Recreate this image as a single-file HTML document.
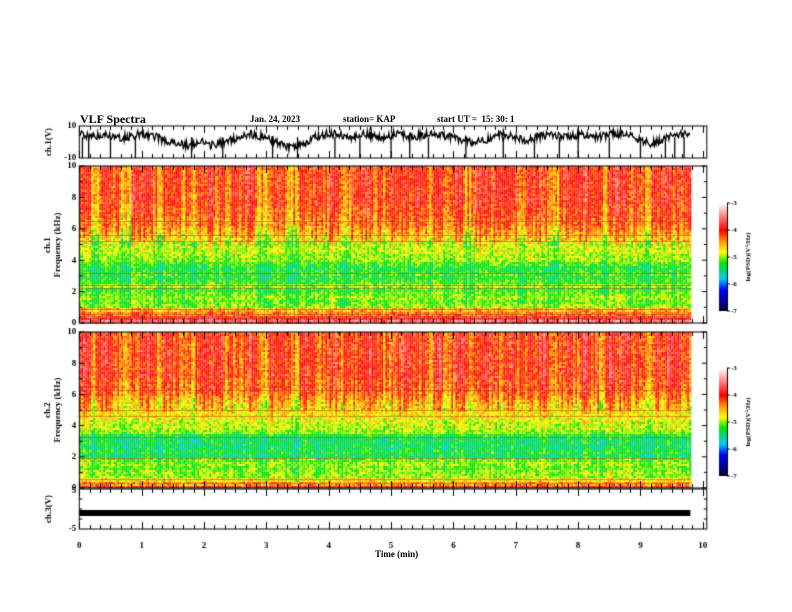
<!DOCTYPE html>
<html><head><meta charset="utf-8">
<style>
body{margin:0;background:#fff;width:792px;height:612px;overflow:hidden;position:relative;font-family:"Liberation Serif",serif;font-weight:bold;}
.t{position:absolute;font-size:9px;color:#000;white-space:nowrap;}
canvas{position:absolute;left:0;top:0;}
</style></head><body>
<canvas id="c" width="792" height="612"></canvas>
<div class="t" style="left:80px;top:112px;font-size:12px">VLF Spectra</div>
<div class="t" style="left:250px;top:114px">Jan. 24, 2023</div>
<div class="t" style="left:343px;top:114px">station= KAP</div>
<div class="t" style="left:437px;top:114px">start UT =&nbsp;&nbsp;15: 30: 1</div>
<div class="t" style="left:375px;top:549px">Time (min)</div>
<script>
// ---------- data ----------
const timeTicks=[0,1,2,3,4,5,6,7,8,9,10];
const ch1Values=[5,4,3,5,4,2,3,4,5,4,3,1,0,-1,-2,-1,0,-2,-1,0,2,4,5,4,3,1,-1,-3,-2,-1,2,4,5,5,4,3,4,5,4,3,4,5,4,3,4,5,5,4,3,2,1,0,1,2,4,5,3,2,1,3,4,5,4,3,4,5,4,3,4,5,5,4,2,0,-1,1,3,4,5,6];
const ch1Spikes=[0.05,0.15,0.5,0.9,1.8,2.3,3.1,3.5,4.1,4.5,5.0,5.3,5.6,6.2,6.8,7.3,7.7,8.0,8.5,9.0,9.4,9.55,9.7];
const freqTicks=[0,2,4,6,8,10];
const ch1Profile=[-3.6,-3.9,-4.3,-4.5,-5.0,-5.1,-5.0,-5.1,-5.2,-5.0,-5.2,-5.3,-5.2,-5.3,-5.3,-5.2,-5.0,-5.0,-4.9,-4.9,-4.9,-4.7,-4.6,-4.5,-4.4,-4.3,-4.3,-4.2,-4.2,-4.2,-4.1,-4.1,-4.1,-4.1,-4.1,-4.1,-4.1,-4.1,-4.1,-4.1];
const ch2Profile=[-4.1,-4.4,-4.7,-5.0,-5.0,-5.1,-5.0,-5.1,-5.4,-5.3,-5.4,-5.4,-5.4,-5.3,-5.0,-4.9,-4.9,-4.8,-4.7,-4.7,-4.6,-4.6,-4.5,-4.4,-4.3,-4.2,-4.2,-4.2,-4.1,-4.1,-4.1,-4.1,-4.1,-4.1,-4.1,-4.1,-4.1,-4.1,-4.1,-4.1];
const ch1Lines=[0.3,0.6,0.9,2.2,2.4,3.2,5.2,5.6,6.5];
const ch2Lines=[0.3,0.6,1.9,3.3,4.6,5.0,6.3];
const activity=[0.1,-0.2,0.2,0.1,-0.3,0.1,0.2,-0.1,0.1,0.0,-0.2,0.1,0.2,0.1,-0.1,0.0,0.2,-0.2,0.1,0.1,-0.3,0.2,0.1,0.0,0.2,-0.1,0.1,0.2,0.0,-0.2,0.1,0.2,0.1,-0.1,0.2,0.0,0.1,-0.2,0.2,0.1,0.0,0.2,-0.1,0.1,0.2,-0.2,0.1,0.0,0.2,0.1,-0.1,0.2,0.1,0.0,-0.2,0.1,0.2,0.1,0.0,0.1];
const ch3Level=[-1];
const cbarTicks=[-3,-4,-5,-6,-7];
// ---------- drawing ----------
const c=document.getElementById('c'),g=c.getContext('2d');
const X0=79.3,X1=702.8,DEND=9.8;
const xs=t=>X0+(X1-X0)*t/10;
function h(i,j){let n=(i*374761393+j*668265263)|0;n=(n^(n>>>13))*1274126177|0;return ((n^(n>>>16))>>>0)/4294967296;}
const stops=[[0,0,0,0],[0.05,0,0,110],[0.2,0,0,255],[0.3,0,200,255],[0.45,0,230,0],[0.55,255,255,0],[0.65,255,150,0],[0.75,255,0,0],[0.9,255,150,150],[1,255,255,255]];
function cmap(v){let t=Math.max(0,Math.min(1,(v+7)/4));for(let k=1;k<stops.length;k++){if(t<=stops[k][0]){const a=stops[k-1],b=stops[k],f=(t-a[0])/(b[0]-a[0]);return `rgb(${a[1]+(b[1]-a[1])*f|0},${a[2]+(b[2]-a[2])*f|0},${a[3]+(b[3]-a[3])*f|0})`;}}return '#fff';}
function spec(top,bot,prof,lines,seed){
  const fy=f=>bot-(bot-top)*f/10;
  const nb=prof.length,cw=2,rh=2;
  for(let x=X0;x<xs(DEND);x+=cw){
    const t=(x-X0)/(X1-X0)*10;const seg=Math.min(activity.length-1,Math.floor(t*6));
    const col=(h(Math.round(x),seed)-0.5)*0.7+activity[seg];
    for(let y=top;y<bot;y+=rh){
      const f=(bot-y)/(bot-top)*10;const b=Math.min(nb-1,Math.floor(f/10*nb));
      const w=f>5?1:0.4;
      const v=prof[b]+col*w+(h(Math.round(x),Math.round(y)+seed)-0.5)*0.55;
      g.fillStyle=cmap(v);g.fillRect(x,y,cw,rh);
    }
  }
  g.globalAlpha=0.45;g.strokeStyle='#a04020';g.lineWidth=1;
  lines.forEach(f=>{const y=Math.round(fy(f))+0.5;g.beginPath();g.moveTo(X0,y);g.lineTo(xs(DEND),y);g.stroke();});
  g.globalAlpha=1;
  frame(top,bot);
  g.font='bold 9px "Liberation Serif"';g.textAlign='right';g.textBaseline='middle';g.fillStyle='#000';
  freqTicks.forEach(f=>{const y=fy(f);g.fillText(f,X0-3,y);
    g.beginPath();g.moveTo(X0,y);g.lineTo(X0+5,y);g.moveTo(X1+4,y);g.lineTo(X1-1,y);g.stroke();});
  for(let f=1;f<10;f+=2){const y=fy(f);g.beginPath();g.moveTo(X0,y);g.lineTo(X0+3,y);g.moveTo(X1+4,y);g.lineTo(X1+1,y);g.stroke();}
}
function frame(top,bot){
  g.strokeStyle='#000';g.lineWidth=1;g.strokeRect(X0,top,X1+4-X0,bot-top);
  for(let k=0;k<=60;k++){const x=Math.round(xs(k/6))+0.5;const L=k%6==0?7:4;
    g.beginPath();g.moveTo(x,top);g.lineTo(x,top+L);g.moveTo(x,bot);g.lineTo(x,bot-L);g.stroke();}
}
function colorbar(top,bot){
  const x=719,w=8;
  for(let y=top;y<bot;y++){g.fillStyle=cmap(-3-4*(y-top)/(bot-top));g.fillRect(x,y,w,1);}
  g.strokeStyle='#000';g.beginPath();g.moveTo(x+w+0.5,top);g.lineTo(x+w+0.5,bot);g.stroke();
  g.fillStyle='#000';g.textAlign='left';g.textBaseline='middle';g.font='bold 7px "Liberation Serif"';
  cbarTicks.forEach(v=>{const y=top+(-3-v)/4*(bot-top);g.beginPath();g.moveTo(x+w,y);g.lineTo(x+w+3,y);g.stroke();g.fillText(v,x+w+4,y);});
  g.save();g.translate(748,(top+bot)/2);g.rotate(-Math.PI/2);g.textAlign='center';g.fillText('log(PSD)(V²/Hz)',0,0);g.restore();
}
function vlabel(txt,x,y){g.save();g.translate(x,y);g.rotate(-Math.PI/2);g.textAlign='center';g.textBaseline='middle';g.font='bold 9px "Liberation Serif"';g.fillStyle='#000';g.fillText(txt,0,0);g.restore();}
// ch1 waveform
(function(){const top=126,bot=158,vy=v=>top+(10-v)/20*(bot-top);
  g.strokeStyle='#000';g.lineWidth=1.3;g.beginPath();
  const n=ch1Values.length,xe=xs(DEND);let first=true;
  for(let xx=X0;xx<=xe;xx+=0.8){
    const p=(xx-X0)/(xe-X0)*(n-1);const i=Math.min(n-2,Math.floor(p)),f=p-i;
    const v=ch1Values[i]*(1-f)+ch1Values[i+1]*f+(h(Math.round(xx*10),7)-0.5)*5;
    if(first){g.moveTo(xx,vy(v));first=false;}else g.lineTo(xx,vy(v));}
  g.stroke();g.lineWidth=1.3;
  ch1Spikes.forEach(t=>{const x=xs(t);g.beginPath();g.moveTo(x,vy(3));g.lineTo(x,vy(-10));g.stroke();});
  g.lineWidth=1;frame(top,bot);
  g.font='bold 9px "Liberation Serif"';g.textAlign='right';g.textBaseline='middle';g.fillStyle='#000';
  g.fillText('10',X0-3,top);g.fillText('-10',X0-3,bot);
  vlabel('ch.1(V)',49,142);})();
spec(166,323,ch1Profile,ch1Lines,11);colorbar(203,311);
vlabel('ch.1',48,245);vlabel('Frequency (kHz)',58,245);
spec(332,488,ch2Profile,ch2Lines,29);colorbar(368,476);
vlabel('ch.2',48,410);vlabel('Frequency (kHz)',58,410);
// ch3
(function(){const top=489,bot=529,vy=v=>top+(5-v)/10*(bot-top);
  g.fillStyle='#000';g.fillRect(X0,vy(ch3Level[0])-3,xs(DEND)-X0,6);
  frame(top,bot);
  g.font='bold 9px "Liberation Serif"';g.textAlign='right';g.textBaseline='middle';
  g.fillText('5',X0-3,top+2);g.fillText('-5',X0-3,bot);
  [-2.5,0,2.5].forEach(v=>{const y=vy(v);g.beginPath();g.moveTo(X0,y);g.lineTo(X0+3,y);g.moveTo(X1+4,y);g.lineTo(X1+1,y);g.stroke();});
  g.textAlign='center';g.textBaseline='top';
  timeTicks.forEach(t=>g.fillText(t,xs(t),541));
  vlabel('ch.3(V)',49,509);})();
</script>
</body></html>
